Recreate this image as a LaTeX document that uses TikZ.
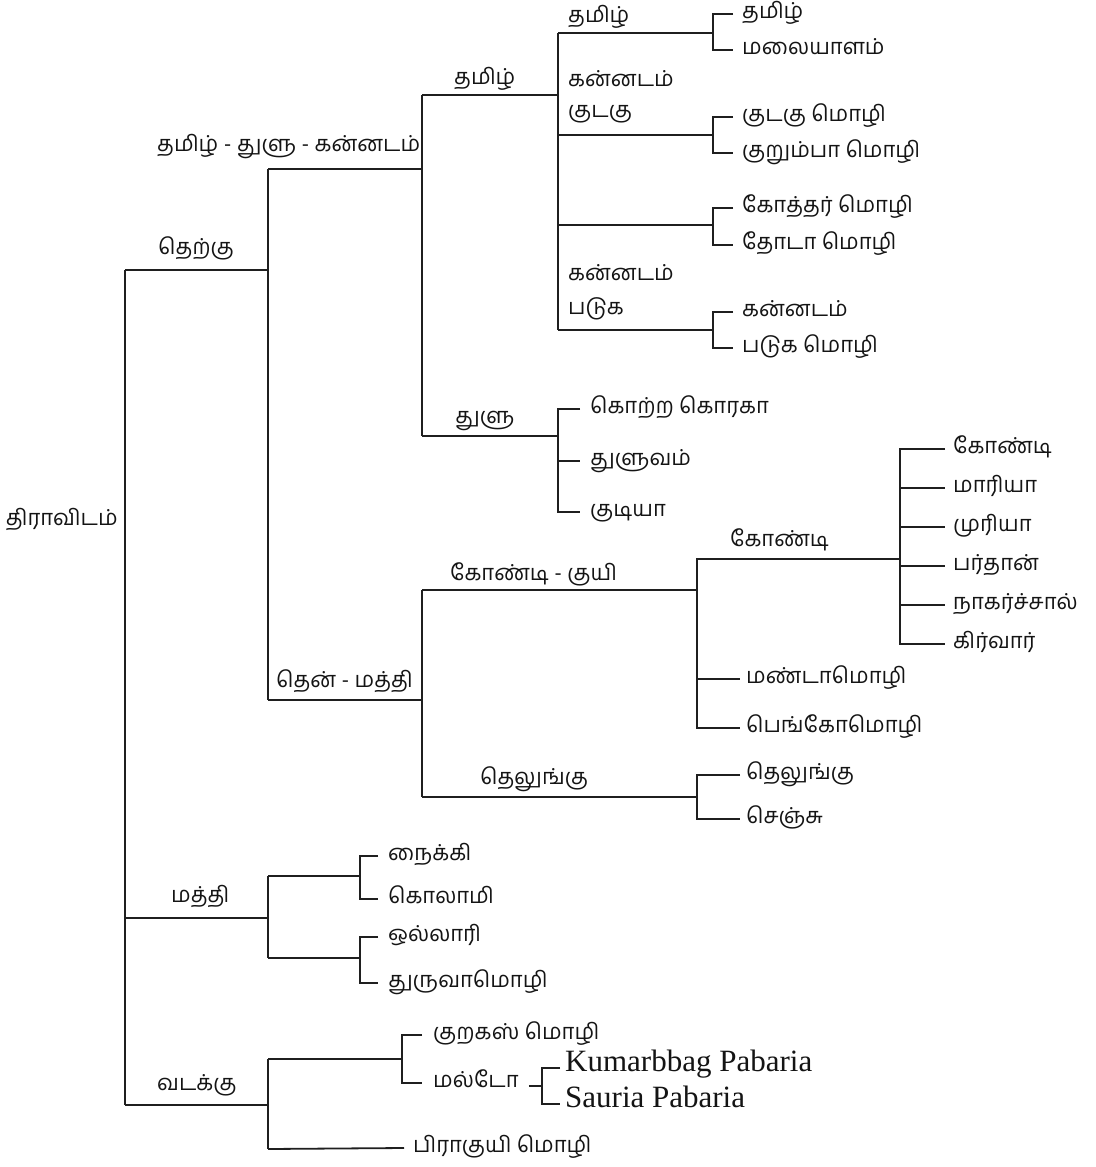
\documentclass[tikz,border=0pt]{standalone}
\usepackage{fontspec}
\setmainfont[Script=Tamil]{Hind Madurai}
\newfontfamily\latinfont{Liberation Serif}
\begin{document}
\begin{tikzpicture}[x=1pt,y=-1pt,
  ln/.style={line width=1.8pt, line join=miter, color=black!88},
  t/.style={inner sep=0pt, anchor=west, text=black!92, font=\fontsize{22}{26}\selectfont, text height=0.95em, text depth=0em},
  lt/.style={inner sep=0pt, anchor=west, text=black!92, font=\latinfont\fontsize{31}{36}\selectfont, text height=0.75em, text depth=0.05em},
]
\useasboundingbox (0,0) rectangle (1095,1167);

% ---------- root ----------
\node[t, anchor=east] (root) at (118,521) {திராவிடம்};
\coordinate (s0) at (125,270);
\coordinate (m0) at (125,918);
\coordinate (n0) at (125,1105);
\coordinate (s1) at (268,270);
\coordinate (m1) at (268,918);
\coordinate (n1) at (268,1105);
\draw[ln] (s0) -- (n0);
\draw[ln] (s0) -- (s1);
\draw[ln] (m0) -- (m1);
\draw[ln] (n0) -- (n1);
\node[t] (south) at (158,250) {தெற்கு};
\node[t] (central) at (171,898) {மத்தி};
\node[t] (north) at (157,1086) {வடக்கு};

% ---------- south ----------
\coordinate (ttk0) at (268,169);
\coordinate (tm0) at (268,700);
\coordinate (ttk1) at (422,169);
\coordinate (tm1) at (422,700);
\draw[ln] (ttk0) -- (tm0);
\draw[ln] (ttk0) -- (ttk1);
\draw[ln] (tm0) -- (tm1);
\node[t] (ttk) at (157,147) {தமிழ் - துளு - கன்னடம்};
\node[t] (tm) at (276,683) {தென் - மத்தி};

% ---------- tamil-tulu-kannada ----------
\coordinate (ta0) at (422,95);
\coordinate (tu0) at (422,436);
\coordinate (ta1) at (558,95);
\coordinate (tu1) at (558,436);
\draw[ln] (ta0) -- (tu0);
\draw[ln] (ta0) -- (ta1);
\draw[ln] (tu0) -- (tu1);
\node[t] (tamilg) at (454,80) {தமிழ்};
\node[t] (tulug) at (455,419) {துளு};

% ---------- tamil group ----------
\coordinate (q1) at (558,33);
\coordinate (q2) at (558,135);
\coordinate (q3) at (558,225);
\coordinate (q4) at (558,330);
\coordinate (p1) at (713,33);
\coordinate (p2) at (713,135);
\coordinate (p3) at (713,225);
\coordinate (p4) at (713,330);
\draw[ln] (q1) -- (q4);
\draw[ln] (q1) -- (p1);
\draw[ln] (q2) -- (p2);
\draw[ln] (q3) -- (p3);
\draw[ln] (q4) -- (p4);
\node[t] (g1) at (568,18) {தமிழ்};
\node[t] (g2a) at (568,82) {கன்னடம்};
\node[t] (g2b) at (568,113) {குடகு};
\node[t] (g4a) at (568,276) {கன்னடம்};
\node[t] (g4b) at (568,310) {படுக};

\node[t] (l1a) at (742,14) {தமிழ்};
\node[t] (l1b) at (742,50) {மலையாளம்};
\node[t] (l2a) at (742,117) {குடகு மொழி};
\node[t] (l2b) at (742,153) {குறும்பா மொழி};
\node[t] (l3a) at (742,208) {கோத்தர் மொழி};
\node[t] (l3b) at (742,245) {தோடா மொழி};
\node[t] (l4a) at (742,312) {கன்னடம்};
\node[t] (l4b) at (742,348) {படுக மொழி};
\draw[ln] ([xshift=-9]l1a.west) -| (p1) |- ([xshift=-9]l1b.west);
\draw[ln] ([xshift=-9]l2a.west) -| (p2) |- ([xshift=-9]l2b.west);
\draw[ln] ([xshift=-9]l3a.west) -| (p3) |- ([xshift=-9]l3b.west);
\draw[ln] ([xshift=-9]l4a.west) -| (p4) |- ([xshift=-9]l4b.west);

% ---------- tulu group ----------
\node[t] (u1) at (590,409) {கொற்ற கொரகா};
\node[t] (u2) at (590,461) {துளுவம்};
\node[t] (u3) at (590,512) {குடியா};
\draw[ln] ([xshift=-10]u1.west) -| (tu1) |- ([xshift=-10]u3.west);
\draw[ln] (u2.west -| tu1) -- ([xshift=-10]u2.west);

% ---------- south-central ----------
\coordinate (gk0) at (422,590);
\coordinate (te0) at (422,797);
\coordinate (gk1) at (697,590);
\coordinate (te1) at (697,797);
\draw[ln] (gk0) -- (te0);
\draw[ln] (gk0) -- (gk1);
\draw[ln] (te0) -- (te1);
\node[t] (gkl) at (450,576) {கோண்டி - குயி};
\node[t] (tel) at (480,780) {தெலுங்கு};

% gondi-kui
\coordinate (go0) at (697,559);
\coordinate (go1) at (900,559);
\node[t] (gol) at (730,542) {கோண்டி};
\node[t] (k2) at (746,679) {மண்டாமொழி};
\node[t] (k3) at (746,728) {பெங்கோமொழி};
\draw[ln] (go1) -- (go0) |- ([xshift=-6]k3.west);
\draw[ln] (k2.west -| go0) -- ([xshift=-6]k2.west);

% gondi leaves
\node[t] (d1) at (953,449) {கோண்டி};
\node[t] (d2) at (953,488) {மாரியா};
\node[t] (d3) at (953,527) {முரியா};
\node[t] (d4) at (953,566) {பர்தான்};
\node[t] (d5) at (953,605) {நாகர்ச்சால்};
\node[t] (d6) at (953,644) {கிர்வார்};
\draw[ln] ([xshift=-8]d1.west) -| (go1) |- ([xshift=-8]d6.west);
\foreach \d in {d2,d3,d4,d5}
  \draw[ln] (\d.west -| go1) -- ([xshift=-8]\d.west);

% telugu leaves
\node[t] (e1) at (746,775) {தெலுங்கு};
\node[t] (e2) at (746,819) {செஞ்சு};
\draw[ln] ([xshift=-6]e1.west) -| (te1) |- ([xshift=-6]e2.west);

% ---------- central ----------
\coordinate (c0) at (268,876);
\coordinate (c1) at (268,958);
\coordinate (ca) at (360,876);
\coordinate (cb) at (360,958);
\draw[ln] (c0) -- (c1);
\draw[ln] (c0) -- (ca);
\draw[ln] (c1) -- (cb);
\node[t] (c1a) at (388,856) {நைக்கி};
\node[t] (c1b) at (388,899) {கொலாமி};
\node[t] (c2a) at (388,937) {ஒல்லாரி};
\node[t] (c2b) at (388,983) {துருவாமொழி};
\draw[ln] ([xshift=-10]c1a.west) -| (ca) |- ([xshift=-10]c1b.west);
\draw[ln] ([xshift=-10]c2a.west) -| (cb) |- ([xshift=-10]c2b.west);

% ---------- north ----------
\coordinate (r0) at (268,1059);
\coordinate (r1) at (268,1149);
\coordinate (ra) at (402,1059);
\draw[ln] (r0) -- (r1);
\draw[ln] (r0) -- (ra);
\node[t] (n1a) at (433,1035) {குறகஸ் மொழி};
\node[t] (n1b) at (433,1083) {மல்டோ};
\draw[ln] ([xshift=-11]n1a.west) -| (ra) |- ([xshift=-11]n1b.west);
\node[t] (brahui) at (413,1148) {பிராகுயி மொழி};
\draw[ln] (r1) -- ([xshift=-9]brahui.west);

% malto
\node[lt] (mk) at (565,1068) {Kumarbbag Pabaria};
\node[lt] (ms) at (565,1104) {Sauria Pabaria};
\coordinate (mv) at (542,1086);
\draw[ln] ([xshift=10]n1b.east |- mv) -- (mv);
\draw[ln] ([xshift=-5]mk.west) -| (mv) |- ([xshift=-5]ms.west);
\end{tikzpicture}
\end{document}
